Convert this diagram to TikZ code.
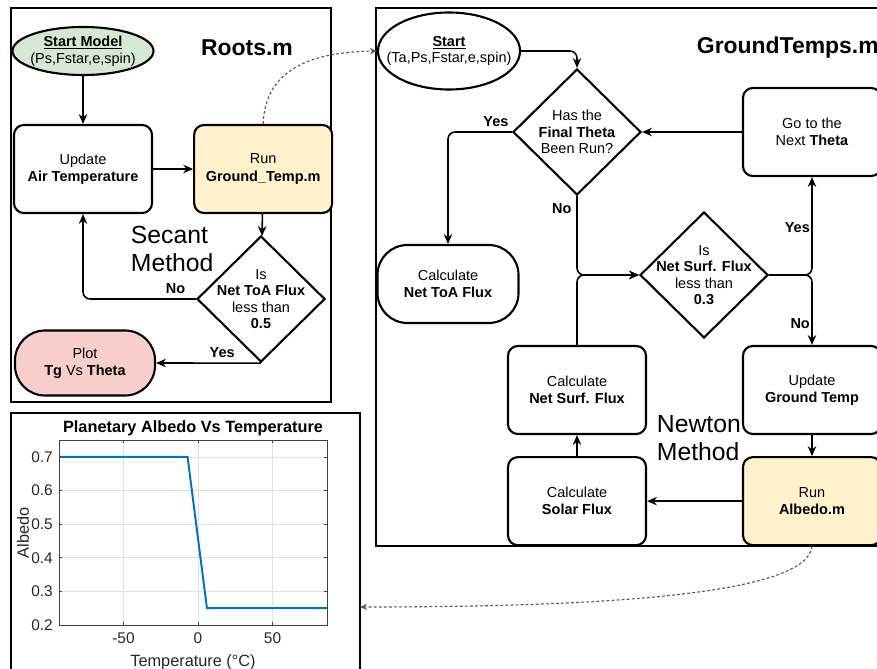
\documentclass[tikz,border=0pt]{standalone}
\usepackage{fontspec}
\setmainfont{Liberation Sans}
\usepackage{tikz}
\usetikzlibrary{positioning,arrows.meta,shapes.geometric}

\definecolor{startgreen}{HTML}{D5E8D4}
\definecolor{runyellow}{HTML}{FFF2CC}
\definecolor{plotred}{HTML}{F8CECC}
\definecolor{matblue}{HTML}{0072BD}
\definecolor{ticktext}{HTML}{262626}

\begin{document}
\begin{tikzpicture}[x=0.025cm, y=-0.025cm, >={Stealth[length=7pt,width=6pt]},
  font=\fontsize{10.3pt}{12.3pt}\selectfont,
  box/.style={draw, line width=1.5pt, rounded corners=7pt, minimum width=3.45cm, minimum height=2.2cm, align=center},
  terminal/.style={draw, line width=1.5pt, rounded corners=0.75cm, align=center},
  startnode/.style={draw, ellipse, line width=1.5pt, inner sep=0pt},
  decision/.style={draw, diamond, line width=1.5pt, inner sep=0pt, minimum width=3.2cm, minimum height=3.15cm},
  lbl/.style={align=center, font=\fontsize{10.3pt}{11.8pt}\selectfont},
  conn/.style={line width=1.1pt, rounded corners=5pt},
  link/.style={draw=black!65, line width=0.8pt, dash pattern=on 2pt off 1.6pt, -{Stealth[length=5pt,width=4.5pt]}},
  frame/.style={line width=1.1pt},
  bigtitle/.style={font=\fontsize{16.3pt}{19pt}\selectfont\bfseries},
  method/.style={align=left, font=\fontsize{17.6pt}{20pt}\selectfont},
  gridline/.style={draw=black!12, line width=0.5pt},
  axisline/.style={draw=black!75, line width=0.6pt},
  ticklbl/.style={text=ticktext, font=\fontsize{11pt}{13pt}\selectfont},
  albedoline/.style={draw=matblue, line width=1.4pt}]

\clip (0,0) rectangle (877,669);

% Frames
\draw[frame] (11,8) rectangle (331,402);
\draw[frame] (376,8) rectangle (890,546);
\draw[frame] (11,413) rectangle (360,690);

% Roots.m nodes
\node[bigtitle] (rootstitle) at (247,48) {Roots.m};
\node[startnode, fill=startgreen, minimum width=3.525cm, minimum height=1.2cm,
  label={[lbl]center:{\underline{\textbf{Start Model}}\\(Ps,Fstar,e,spin)}}] (model) at (83,51) {};
\node[box] (upd) at (83,169) {Update\\\textbf{Air Temperature}};
\node[box, fill=runyellow, right=1cm of upd] (runground) {Run\\\textbf{Ground\_Temp.m}};
\node[decision, label={[lbl]center:{Is\\\textbf{Net ToA Flux}\\less than\\\textbf{0.5}}}] (toa) at (261,299) {};
\node[terminal, fill=plotred, minimum width=3.5cm, minimum height=1.625cm] (plot) at (85,363) {Plot\\\textbf{Tg} Vs \textbf{Theta}};
\node[method, anchor=west] (secant) at (126,249) {Secant\\Method};

% GroundTemps.m nodes
\node[bigtitle, anchor=west] (groundtitle) at (692,48) {GroundTemps.m};
\node[startnode, minimum width=3.55cm, minimum height=1.925cm,
  label={[lbl]center:{\underline{\textbf{Start}}\\(Ta,Ps,Fstar,e,spin)}}] (start) at (449,51) {};
\node[decision, label={[lbl]center:{Has the\\\textbf{Final Theta}\\Been Run?}}] (final) at (577,132) {};
\node[box] (nexttheta) at (812,132) {Go to the\\Next \textbf{Theta}};
\node[terminal, minimum width=3.525cm, minimum height=1.95cm] (toaflux) at (448,284) {Calculate\\\textbf{Net ToA Flux}};
\node[decision, label={[lbl]center:{Is\\\textbf{Net Surf. Flux}\\less than\\\textbf{0.3}}}] (surf) at (704,275) {};
\node[box] (netsurf) at (577,390) {Calculate\\\textbf{Net Surf. Flux}};
\node[box] (updground) at (812,390) {Update\\\textbf{Ground Temp}};
\node[box, fill=runyellow, below=0.525cm of updground] (albedo) {Run\\\textbf{Albedo.m}};
\node[box, below=0.525cm of netsurf] (solar) {Calculate\\\textbf{Solar Flux}};
\node[method, anchor=west] (newton) at (652,438) {Newton\\Method};

\coordinate (chartin) at (360,607);

% Arrows
\draw[->, conn] (model) -- (upd);
\draw[->, conn] (upd) -- (runground);
\draw[->, conn] (runground) -- (toa);
\draw[->, conn] (toa.west) -| (upd.south) node[pos=0.09, above] {\textbf{No}};
\draw[->, conn] (toa.south) -- (plot.east) node[pos=0.37, above] {\textbf{Yes}};

\draw[->, conn] (start.east) -| (final.north);
\draw[->, conn] (nexttheta) -- (final);
\draw[->, conn] (final.west) -| (toaflux.north) node[pos=0.125, above] {\textbf{Yes}};
\draw[->, conn] (final.south) |- (surf.west) node[pos=0.08, left] {\textbf{No}};
\draw[->, conn] (netsurf.north) |- (surf.west);
\draw[->, conn] (surf.east) -| (nexttheta.south) node[pos=0.74, left, inner sep=1pt] {\textbf{Yes}};
\draw[->, conn] (surf.east) -| (updground.north) node[pos=0.85, left, inner sep=1pt] {\textbf{No}};
\draw[->, conn] (updground) -- (albedo);
\draw[->, conn] (albedo) -- (solar);
\draw[->, conn] (solar) -- (netsurf);

% dotted links between files
\draw[link] (runground.north) .. controls (265,70) and (310,52) .. (start.west);
\draw[link] (albedo.south) .. controls (808,595) and (600,607) .. (chartin);

% Albedo plot
\begin{scope}[shift={(198,692.2)}, x=0.03725cm, y=8.4cm]
  \foreach \t in {-50,0,50}
    \draw[gridline] (\t,0.2) -- (\t,0.75);
  \foreach \a in {3,...,7}
    \draw[gridline] (-93.15,\a/10) -- (86.85,\a/10);
  \foreach \t in {-50,0,50} {
    \draw[axisline] (\t,0.2) -- (\t,0.209);
    \draw[axisline] (\t,0.75) -- (\t,0.741);
    \node[ticklbl, below=2pt] (xtick\t) at (\t,0.2) {\t};
  }
  \foreach \a in {2,...,7} {
    \draw[axisline] (-93.15,\a/10) -- (-91.15,\a/10);
    \draw[axisline] (86.85,\a/10) -- (84.85,\a/10);
    \node[ticklbl, left=1pt] (ytick\a) at (-93.15,\a/10) {0.\a};
  }
  \draw[albedoline] (-93.15,0.7) -- (-7,0.7) -- (6,0.25) -- (86.85,0.25);
  \draw[axisline] (-93.15,0.2) rectangle (86.85,0.75);
\end{scope}
\node[font=\fontsize{11.6pt}{13pt}\selectfont\bfseries] (plottitle) at (193,428) {Planetary Albedo Vs Temperature};
\node[ticklbl, font=\fontsize{11.6pt}{13pt}\selectfont] (xlab) at (193,662) {Temperature (°C)};
\node[ticklbl, font=\fontsize{11.6pt}{13pt}\selectfont, rotate=90] (ylab) at (23,533) {Albedo};

\end{tikzpicture}
\end{document}
